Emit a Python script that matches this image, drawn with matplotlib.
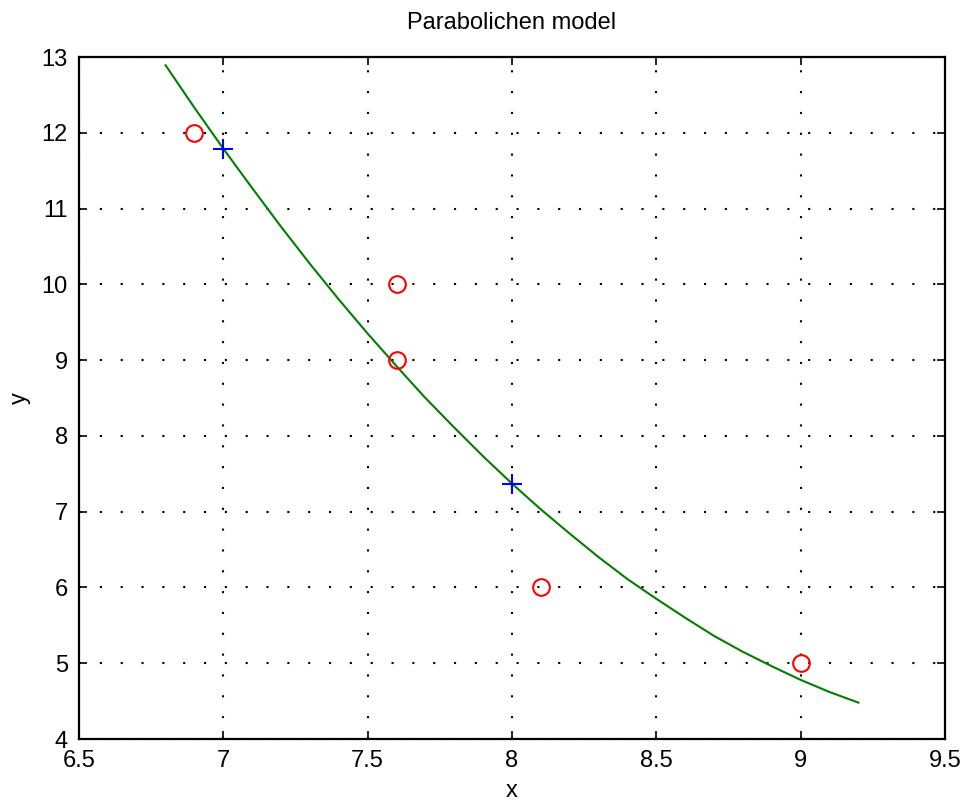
import matplotlib
matplotlib.use("Agg")
import matplotlib.pyplot as plt

# Observed data
x_obs = [6.9, 7.6, 7.6, 8.1, 9.0]
y_obs = [12.0, 10.0, 9.0, 6.0, 5.0]

# Model predictions at the check points
x_pred = [7.0, 8.0]
y_pred = [11.79, 7.37]

# Fitted parabolic curve
x_fit = [6.8, 6.9, 7.0, 7.1, 7.2, 7.3, 7.4, 7.5, 7.6, 7.7, 7.8, 7.9, 8.0,
         8.1, 8.2, 8.3, 8.4, 8.5, 8.6, 8.7, 8.8, 8.9, 9.0, 9.1, 9.2]
y_fit = [12.89, 12.33, 11.79, 11.27, 10.76, 10.27, 9.80, 9.35, 8.92, 8.50,
         8.11, 7.73, 7.37, 7.03, 6.71, 6.40, 6.11, 5.85, 5.60, 5.36, 5.15,
         4.96, 4.78, 4.62, 4.48]

x_ticks = [6.5, 7, 7.5, 8, 8.5, 9, 9.5]
x_ticklabels = ["6.5", "7", "7.5", "8", "8.5", "9", "9.5"]
y_ticks = [4, 5, 6, 7, 8, 9, 10, 11, 12, 13]

plt.rcParams["font.family"] = ["Liberation Sans", "DejaVu Sans"]

fig = plt.figure(figsize=(9.65, 8.05), dpi=100)
ax = fig.add_axes([79 / 965, 1 - 739 / 805, 866 / 965, 682 / 805])

ax.plot(x_fit, y_fit, color="#007f00", lw=1.5, zorder=3)
ax.plot(x_obs, y_obs, linestyle="none", marker="o", markersize=12,
        markerfacecolor="none", markeredgecolor="#ff0000", markeredgewidth=1.5, zorder=4)
ax.plot(x_pred, y_pred, linestyle="none", marker="+", markersize=14,
        markeredgecolor="#0000ff", markeredgewidth=1.5, zorder=5)

ax.set_xlim(6.5, 9.5)
ax.set_ylim(4, 13)
ax.set_xticks(x_ticks)
ax.set_xticklabels(x_ticklabels)
ax.set_yticks(y_ticks)

ax.grid(True, color="black", linestyle=(0, (1, 9)), linewidth=1.5)
ax.set_axisbelow(True)
for s in ax.spines.values():
    s.set_linewidth(1.6)
ax.tick_params(direction="in", length=6, width=1.2, labelsize=17,
               top=True, right=True, pad=8)

ax.set_title("Parabolichen model", fontsize=17, pad=20)
ax.set_xlabel("x", fontsize=17, labelpad=6)
ax.set_ylabel("y", fontsize=17, labelpad=8)

fig.savefig("out.png", dpi=100)
